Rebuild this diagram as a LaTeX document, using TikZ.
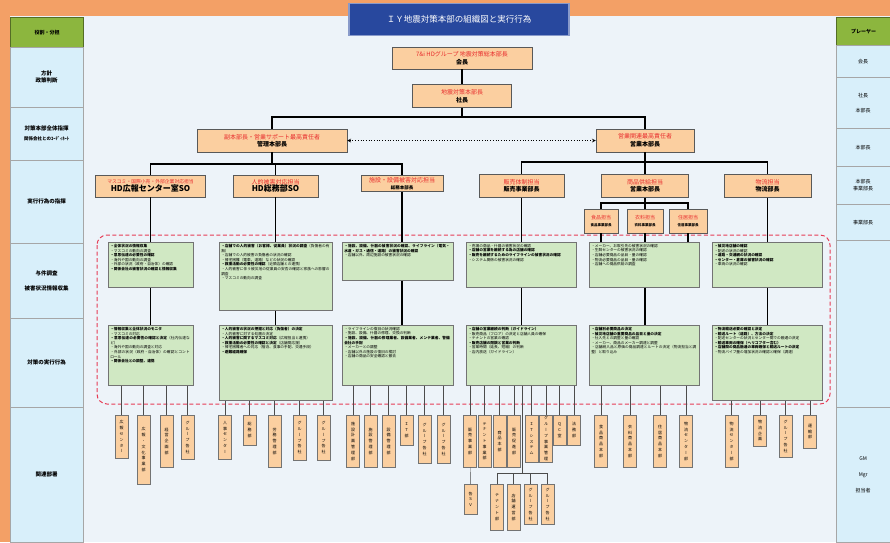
\documentclass[tikz,border=0pt]{standalone}
\usepackage{fontspec}
\usepackage{xcolor}
\usepackage{tikz}
\usetikzlibrary{arrows, positioning, calc}

\setmainfont{Noto Sans CJK JP}
\newfontfamily\tatefont[RawFeature=+vert]{Noto Sans CJK JP}
\XeTeXlinebreaklocale "ja"
\XeTeXlinebreakskip=0pt plus 0.5pt

\definecolor{frame}{RGB}{243,160,102}
\definecolor{paper}{RGB}{237,243,249}
\definecolor{cellblue}{RGB}{216,239,250}
\definecolor{hdrgreen}{RGB}{140,182,62}
\definecolor{navy}{RGB}{40,72,158}
\definecolor{peach}{RGB}{251,207,160}
\definecolor{leaf}{RGB}{208,232,195}
\definecolor{alert}{RGB}{232,45,45}
\definecolor{zonered}{RGB}{230,60,85}

% vertical label: one character per line
\let\tateend\relax
\def\tate#1{\tateA#1\tateend}
\def\tateA#1#2{#1\ifx#2\tateend\else\\\expandafter\tateA\expandafter#2\fi}

\begin{document}
\begin{tikzpicture}[
   x=1pt, y=-1pt,
   boss/.style = {draw=black!65, fill=peach, rectangle, align=center, inner sep=0pt, line width=.5pt, font=\fontsize{6}{7.5}\selectfont},
   act/.style = {draw=black!55, fill=leaf, rectangle, anchor=north west, align=left, inner sep=2pt, line width=.5pt, font=\fontsize{3.7}{4.6}\selectfont},
   fillto/.style = {execute at begin node={\vbox to #1\bgroup}, execute at end node={\vfill\egroup}},
   dept/.style = {draw=black!55, fill=peach, rectangle, anchor=north, minimum width=13pt, inner sep=.5pt, align=center, font=\tatefont\fontsize{4}{5.8}\selectfont},
   lcell/.style = {draw=black!35, fill=cellblue, anchor=north west, minimum width=73pt, align=center, inner sep=0pt, font=\bfseries\fontsize{5.5}{7}\selectfont},
   rcell/.style = {lcell, minimum width=54pt, font=\fontsize{5}{7}\selectfont},
   hdr/.style = {draw=hdrgreen!60!black, fill=hdrgreen, line width=1pt, anchor=north west, inner sep=0pt, font=\bfseries\fontsize{5}{6}\selectfont},
   banner/.style = {draw=navy!55, fill=navy, line width=1.2pt, text=white, font=\fontsize{8.5}{10}\selectfont},
   link/.style = {draw, line width=1.1pt},
   wire/.style = {draw, black!70, line width=.45pt},
   peer/.style = {draw, dotted, stealth-stealth, line width=.7pt},
   hotzone/.style = {draw=zonered, line width=1pt, dash pattern=on 4pt off 2.5pt, rounded corners=10pt}
   ]
  \useasboundingbox (0,0) rectangle (890,542);
  \fill[frame] (0,0) rectangle (890,542);
  \fill[paper] (10,16) rectangle (890,542);

  % Left column: roles
  \node[hdr, minimum width=73pt, minimum height=30pt] (lhead) at (10,17) {役割・分担};
  \node[lcell, minimum height=60pt] (policy) at (10,47) {方針\\政策判断};
  \node[lcell, minimum height=53pt] (command) at (10,107)
   {対策本部全体指揮\\[3pt]{\fontsize{4.5}{6}\selectfont 関係会社とのｺｰﾃﾞｨﾈｰﾄ}};
  \node[lcell, minimum height=83pt] (direct) at (10,160) {実行行為の指揮};
  \node[lcell, minimum height=75pt] (survey) at (10,243) {与件調査\\[8pt]被害状況情報収集};
  \node[lcell, minimum height=89pt] (action) at (10,318) {対策の実行行為};
  \node[lcell, minimum height=135pt] (related) at (10,407) {関連部署};

  % Right column: players
  \node[hdr, minimum width=54pt, minimum height=28pt] (rhead) at (836,17) {プレーヤー};
  \node[rcell, minimum height=32pt] (p1) at (836,45) {会長};
  \node[rcell, minimum height=51pt] (p2) at (836,77) {社長\\[8pt]本部長};
  \node[rcell, minimum height=38pt] (p3) at (836,128) {本部長};
  \node[rcell, minimum height=38pt] (p4) at (836,166) {本部長\\事業部長};
  \node[rcell, minimum height=36pt] (p5) at (836,204) {事業部長};
  \node[rcell, minimum height=167pt] (p6) at (836,240) {};
  \node[rcell, minimum height=135pt] (p7) at (836,407) {GM\\[9pt]Mgr\\[9pt]担当者};

  % Title
  \node[banner, minimum width=220pt, minimum height=32pt] (title) at (459,19.5) {ＩＹ地震対策本部の組織図と実行行為};

  % Red dashed frame round the actions
  \draw[hotzone] (97,235) rectangle (830,404);

  % Top of the organisation
  \node[boss, minimum width=140pt, minimum height=22pt] (chair) at (462,58)
   {{\color{alert}7\&i HDグループ 地震対策総本部長}\\\textbf{会長}};
  \node[boss, minimum width=99pt, minimum height=23pt, below=15pt of chair] (pres)
   {{\color{alert}地震対策本部長}\\\textbf{社長}};
  \node[boss, minimum width=150pt, minimum height=23pt] (kanri) at (272,140.5)
   {{\color{alert}副本部長・営業サポート最高責任者}\\\textbf{管理本部長}};
  \node[boss, minimum width=98pt, minimum height=23pt] (eigyo) at (645,140.5)
   {{\color{alert}営業関連最高責任者}\\\textbf{営業本部長}};

  % Leaders of the actions
  \node[boss, minimum width=110pt, minimum height=22pt] (koho) at (150.5,186)
   {{\color{alert}\fontsize{4.8}{6}\selectfont マスコミ・国際小売・外部企業対応担当}\\{\bfseries\fontsize{8}{9}\selectfont HD広報センター室SO}};
  \node[boss, minimum width=85pt, minimum height=22pt] (somu) at (275.5,186)
   {{\color{alert}人的被害対応担当}\\{\bfseries\fontsize{8}{9}\selectfont HD総務部SO}};
  \node[boss, minimum width=82pt, minimum height=16pt] (shisetsu) at (402,183.5)
   {{\color{alert}施設・設備被害対応担当}\\{\bfseries\fontsize{4.5}{5.5}\selectfont 総務本部長}};
  \node[boss, minimum width=85pt, minimum height=23pt] (hanbai) at (521.5,186)
   {{\color{alert}販売体制担当}\\\textbf{販売事業部長}};
  \node[boss, minimum width=87pt, minimum height=23pt] (shohin) at (645,186)
   {{\color{alert}商品供給担当}\\\textbf{営業本部長}};
  \node[boss, minimum width=87pt, minimum height=23pt] (butsuryu) at (767.5,186)
   {{\color{alert}物流担当}\\\textbf{物流部長}};
  \node[boss, minimum width=34pt, minimum height=24pt] (food) at (601,221)
   {{\color{alert}\fontsize{5}{6}\selectfont 食品担当}\\{\bfseries\fontsize{3.5}{4.5}\selectfont 食品事業部長}};
  \node[boss, minimum width=36pt, minimum height=24pt] (cloth) at (645,221)
   {{\color{alert}\fontsize{5}{6}\selectfont 衣料担当}\\{\bfseries\fontsize{3.5}{4.5}\selectfont 衣料事業部長}};
  \node[boss, minimum width=38pt, minimum height=24pt] (home) at (688,221)
   {{\color{alert}\fontsize{5}{6}\selectfont 住居担当}\\{\bfseries\fontsize{3.5}{4.5}\selectfont 住居事業部長}};

  % Survey boxes
  \node[act, text width=81pt, fillto=41pt] (chosa1) at (108,242)
   {\textbf{・全体状況の情報収集}\\・マスコミの動向の調査\\\textbf{・意思伝達の必要性の確認}\\・海外や国の動向の調査\\・外部の状況（政府・自治体）の確認\\\textbf{・関係会社の被害状況の確認と情報収集}};
  \node[act, text width=109pt, fillto=64pt] (chosa2) at (219,242)
   {\textbf{・店舗での人的被害（お客様、従業員）状況の調査}（負傷者の有無）\\・店舗での人的被害の負傷者の状況の確認\\・帰宅困難（電車、道路）などの状況の確認\\\textbf{・救援活動の必要性の確認}（近隣店舗との連携）\\・人的被害に伴う被災地の従業員の安否の確認と家族への影響の調査\\・マスコミの動向の調査};
  \node[act, text width=107pt, fillto=34pt] (chosa3) at (342,242)
   {\textbf{・施設、設備、什器の被害状況の確認、ライフライン（電気・水道・ガス・通信・道路）の被害状況の確認}\\・店舗以外、周辺施設の被害状況の確認};
  \node[act, text width=106pt, fillto=41pt] (chosa4) at (466,242)
   {・売場の商品・什器の被害状況の確認\\\textbf{・店舗の営業を継続する為の店舗の確認}\\\textbf{・販売を継続するためのライフラインの被害状況の確認}\\・システム関係の被害状況の確認};
  \node[act, text width=106pt, fillto=41pt] (chosa5) at (589,242)
   {・メーカー、お取引先の被害状況の確認\\・生鮮センターの被害状況の確認\\・店舗必要商品の品目・量の確認\\・物流必要商品の品目・量の確認\\・店舗への商品供給の調査};
  \node[act, text width=106pt, fillto=41pt] (chosa6) at (712,242)
   {\textbf{・被災地店舗の確認}\\・配送の状況の確認\\\textbf{・道路・交通網の状況の確認}\\\textbf{・センター・倉庫の被害状況の確認}\\・車両の状況の確認};

  % Action boxes
  \node[act, text width=81pt, fillto=56pt] (jikko1) at (108,325)
   {\textbf{・情報収集と全体状況のモニタ}\\・マスコミの対応\\\textbf{・意思伝達の必要性の確認と決定}（社内伝達など）\\・海外や国の動向の調査と対応\\・外部の状況（政府・自治体）の確認とコントロール\\\textbf{・関係会社との調整、連携}};
  \node[act, text width=109pt, fillto=71pt] (jikko2) at (219,325)
   {\textbf{・人的被害の状況の把握と対応（負傷者）の決定}\\・人的被害に対する処置の決定\\\textbf{・人的被害に関するマスコミ対応}（広報担当と連携）\\\textbf{・救援活動の必要性の確認と決定}（店舗間応援）\\・帰宅困難者への対応（宿泊、食事の手配、交通手段）\\\textbf{・避難経路確保}};
  \node[act, text width=107pt, fillto=56pt] (jikko3) at (342,325)
   {・ライフラインの復旧の状況確認\\・施設、設備、什器の修理、交換の判断\\\textbf{・施設、設備、什器の修理業者、設備業者、メンテ業者、警備会社の手配}\\・メーカーとの調整\\・店舗以外の施設の復旧の検討\\・店舗の商品の安全確認と撤去};
  \node[act, text width=106pt, fillto=56pt] (jikko4) at (466,325)
   {\textbf{・店舗の営業継続の判断（ガイドライン）}\\・販売商品（フロア）の決定と店舗人員の確保\\・テナントの営業の確認\\\textbf{・販売店舗の閉鎖と営業の判断}\\・営業時間（延長、短縮）の判断\\・店内放送（ガイドライン）};
  \node[act, text width=106pt, fillto=56pt] (jikko5) at (589,325)
   {\textbf{・店舗別必要商品の決定}\\\textbf{・被災地店舗の重要商品の品目と量の決定}\\・仕入先との調整と量の確認\\・メーカー、商品のメーカー調達と調整\\・店舗納入品と原価の商品調達とルートの決定（物流担当と調整）と取り込み};
  \node[act, text width=106pt, fillto=71pt] (jikko6) at (712,325)
   {\textbf{・物流輸送必要の確認と決定}\\\textbf{・輸送ルート（道路）、方法の決定}\\・配送センターの状況とセンター間での融通の決定\\\textbf{・輸送車両の確保（ヘリコプター含む）}\\\textbf{・店舗間の商品融通の車両確保と輸送ルートの決定}\\・物流パイプ量の増加状況の確認と確保（調達）};

  % Related departments
  \node[dept, minimum height=43pt] (d1a) at (121.5,415) {\tate{広報センター}};
  \node[dept, minimum height=69pt] (d1b) at (143.5,415) {\tate{広報・文化事業部}};
  \node[dept, minimum height=52pt] (d1c) at (166.5,415) {\tate{経営企画部}};
  \node[dept, minimum height=44pt] (d1d) at (187.5,415) {\tate{グループ各社}};

  \node[dept, minimum height=44pt] (d2a) at (225,415) {\tate{人事センター}};
  \node[dept, minimum height=30pt] (d2b) at (249.5,415) {\tate{総務部}};
  \node[dept, minimum height=52pt] (d2c) at (274.5,415) {\tate{労務管理部}};
  \node[dept, minimum height=45pt] (d2d) at (299.5,415) {\tate{グループ各社}};
  \node[dept, minimum height=45pt] (d2e) at (323.5,415) {\tate{グループ各社}};

  \node[dept, minimum height=52pt] (d3a) at (353,415) {\tate{施設計画管理部}};
  \node[dept, minimum height=52pt] (d3b) at (370.5,415) {\tate{施設管理部}};
  \node[dept, minimum height=52pt] (d3c) at (388.5,415) {\tate{設備管理部}};
  \node[dept, minimum height=30pt] (d3d) at (406.5,415) {\tate{ＩＴ部}};
  \node[dept, minimum height=48pt] (d3e) at (424.5,415) {\tate{グループ各社}};
  \node[dept, minimum height=48pt] (d3f) at (443.5,415) {\tate{グループ各社}};

  \node[dept, minimum height=52pt] (d4a) at (470,415) {\tate{販売事業部}};
  \node[dept, minimum height=52pt] (d4b) at (484.5,415) {\tate{テナント事業部}};
  \node[dept, minimum height=52pt] (d4c) at (499.5,415) {\tate{商品本部}};
  \node[dept, minimum height=52pt] (d4d) at (514,415) {\tate{販売促進部}};
  \node[dept, minimum height=47pt] (d4e) at (531.5,415) {\tate{ＩＴシステム}};
  \node[dept, minimum height=47pt] (d4f) at (546,415) {\tate{グループ事業管理}};
  \node[dept, minimum height=30pt] (d4g) at (559.5,415) {\tate{ＱＣ室}};
  \node[dept, minimum height=30pt] (d4h) at (574,415) {\tate{法務部}};
  \node[dept, minimum height=30pt] (d4sv) at (470.5,484) {\tate{各ＳＶ}};
  \node[dept, minimum height=46pt] (d4i) at (497,484) {\tate{テナント部}};
  \node[dept, minimum height=46pt] (d4j) at (513.5,484) {\tate{店舗運営部}};
  \node[dept, minimum height=40pt] (d4k) at (530.5,484) {\tate{グループ各社}};
  \node[dept, minimum height=40pt] (d4l) at (547.5,484) {\tate{グループ各社}};

  \node[dept, minimum height=52pt] (d5a) at (601,415) {\tate{食品商品本部}};
  \node[dept, minimum height=52pt] (d5b) at (630,415) {\tate{衣料商品本部}};
  \node[dept, minimum height=52pt] (d5c) at (660,415) {\tate{住居商品本部}};
  \node[dept, minimum height=52pt] (d5d) at (686,415) {\tate{物流センター部}};

  \node[dept, minimum height=52pt] (d6a) at (731.5,415) {\tate{物流センター部}};
  \node[dept, minimum height=31pt] (d6b) at (760,415) {\tate{物流企画}};
  \node[dept, minimum height=42pt] (d6c) at (785.5,415) {\tate{グループ各社}};
  \node[dept, minimum height=33pt] (d6d) at (810,415) {\tate{運輸部}};

  % Tree lines
  \coordinate (ts) at (462,117);
  \coordinate (ls) at (272,164);
  \coordinate (rs) at (645,162);
  \coordinate (ss) at (645,203);
  \coordinate (hs) at (522,473);
  \draw[link] (chair) -- (pres);
  \draw[link] (pres) -- (ts);
  \draw[link] (ts) -| (kanri);
  \draw[link] (ts) -| (eigyo);
  \draw[peer] (kanri) -- (eigyo);
  \draw[link] (kanri) -- (ls);
  \draw[link] (ls) -| (koho);
  \draw[link] (ls) -| (somu);
  \draw[link] (ls) -| (shisetsu);
  \draw[link] (eigyo) -- (shohin);
  \draw[link] (rs) -| (hanbai);
  \draw[link] (rs) -| (butsuryu);
  \draw[link] (shohin) -- (cloth);
  \draw[link] (ss) -| (food);
  \draw[link] (ss) -| (home);

  % Leaders to survey and action
  \draw[link] (koho) -- (koho |- chosa1.north);
  \draw[link] (koho |- chosa1.south) -- (koho |- jikko1.north);
  \draw[link] (somu) -- (somu |- chosa2.north);
  \draw[link] (somu |- chosa2.south) -- (somu |- jikko2.north);
  \draw[link] (shisetsu) -- (shisetsu |- chosa3.north);
  \draw[link] (shisetsu |- chosa3.south) -- (shisetsu |- jikko3.north);
  \draw[link] (hanbai) -- (hanbai |- chosa4.north);
  \draw[link] (hanbai |- chosa4.south) -- (hanbai |- jikko4.north);
  \draw[link] (food) -- (food |- chosa5.north);
  \draw[link] (cloth) -- (cloth |- chosa5.north);
  \draw[link] (home) -- (home |- chosa5.north);
  \draw[link] (cloth |- chosa5.south) -- (cloth |- jikko5.north);
  \draw[link] (butsuryu) -- (butsuryu |- chosa6.north);
  \draw[link] (butsuryu |- chosa6.south) -- (butsuryu |- jikko6.north);

  % Actions to departments
  \draw[wire] (jikko1.south -| d1a) -- (d1a);
  \draw[wire] (jikko1.south -| d1b) -- (d1b);
  \draw[wire] (jikko1.south -| d1c) -- (d1c);
  \draw[wire] (jikko1.south -| d1d) -- (d1d);
  \draw[wire] (jikko2.south -| d2a) -- (d2a);
  \draw[wire] (jikko2.south -| d2b) -- (d2b);
  \draw[wire] (jikko2.south -| d2c) -- (d2c);
  \draw[wire] (jikko2.south -| d2d) -- (d2d);
  \draw[wire] (jikko2.south -| d2e) -- (d2e);
  \draw[wire] (jikko3.south -| d3a) -- (d3a);
  \draw[wire] (jikko3.south -| d3b) -- (d3b);
  \draw[wire] (jikko3.south -| d3c) -- (d3c);
  \draw[wire] (jikko3.south -| d3d) -- (d3d);
  \draw[wire] (jikko3.south -| d3e) -- (d3e);
  \draw[wire] (jikko3.south -| d3f) -- (d3f);
  \draw[wire] (jikko4.south -| d4a) -- (d4a);
  \draw[wire] (jikko4.south -| d4b) -- (d4b);
  \draw[wire] (jikko4.south -| d4c) -- (d4c);
  \draw[wire] (jikko4.south -| d4d) -- (d4d);
  \draw[wire] (jikko4.south -| d4e) -- (d4e);
  \draw[wire] (jikko4.south -| d4f) -- (d4f);
  \draw[wire] (jikko4.south -| d4g) -- (d4g);
  \draw[wire] (jikko4.south -| d4h) -- (d4h);
  \draw[wire] (d4a) -- (d4sv);
  \draw[wire] (jikko4.south -| hs) -- (hs);
  \draw[wire] (d4i) |- (hs);
  \draw[wire] (hs) -| (d4l);
  \draw[wire] (hs -| d4j) -- (d4j);
  \draw[wire] (hs -| d4k) -- (d4k);
  \draw[wire] (jikko5.south -| d5a) -- (d5a);
  \draw[wire] (jikko5.south -| d5b) -- (d5b);
  \draw[wire] (jikko5.south -| d5c) -- (d5c);
  \draw[wire] (jikko5.south -| d5d) -- (d5d);
  \draw[wire] (jikko6.south -| d6a) -- (d6a);
  \draw[wire] (jikko6.south -| d6b) -- (d6b);
  \draw[wire] (jikko6.south -| d6c) -- (d6c);
  \draw[wire] (jikko6.south -| d6d) -- (d6d);
\end{tikzpicture}
\end{document}
